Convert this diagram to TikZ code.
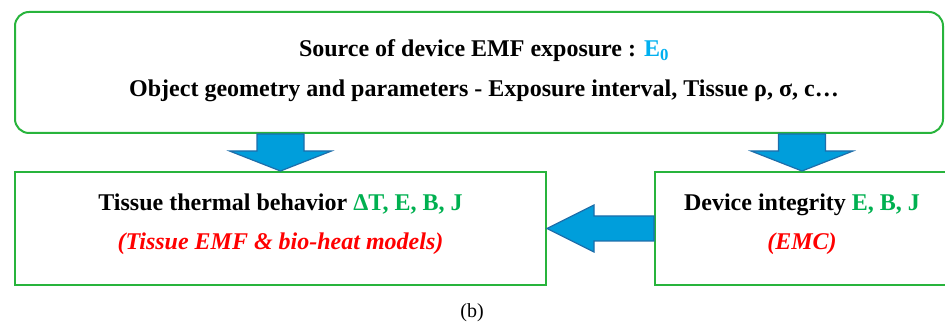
\documentclass[tikz,border=0pt]{standalone}
\usepackage{fontspec}
\setmainfont{Liberation Serif}
\usepackage{xcolor}
\usetikzlibrary{calc}
\definecolor{boxgreen}{RGB}{40,180,60}
\definecolor{textgreen}{RGB}{0,176,80}
\definecolor{sourceblue}{RGB}{0,176,240}
\definecolor{arrowblue}{RGB}{0,158,219}
\definecolor{arrowedge}{RGB}{30,110,170}

\begin{document}
\begin{tikzpicture}[x=1pt, y=1pt,
        box/.style={draw=boxgreen, line width=2pt, inner sep=0pt},
        boxtext/.style={align=center, font=\fontsize{24}{28.8}\selectfont\bfseries},
        fatarrow/.style={fill=arrowblue, draw=arrowedge, line width=1.2pt, line join=miter}]
        \clip (0,0) rectangle (945,329); % page of the figure
        % Boxes {{{
        \node[box, rounded corners=14pt, minimum width=928pt, minimum height=121pt] (src) at (479,256.5) {};
        \node[box, minimum width=531pt, minimum height=113pt] (tissue) at (280.5,100.5) {};
        \node[box, minimum width=294pt, minimum height=113pt] (device) at (802,100.5) {};
        % }}}
        % Texts {{{
        \node[boxtext] (srctext) at ([xshift=5pt, yshift=1.5pt]src.center)
                {Source of device EMF exposure : \textcolor{sourceblue}{E\textsubscript{0}}\\[11pt]
                 Object geometry and parameters - Exposure interval, Tissue ρ, σ, c…};
        \node[boxtext] (tissuetext) at ([yshift=4pt]tissue.center)
                {Tissue thermal behavior \textcolor{textgreen}{ΔT, E, B, J}\\[10pt]
                 \textcolor{red}{\itshape (Tissue EMF \& bio-heat models)}};
        \node[boxtext] (devicetext) at ([yshift=4pt]device.center)
                {Device integrity \textcolor{textgreen}{E, B, J}\\[10pt]
                 \textcolor{red}{\itshape (EMC)}};
        \node[font=\fontsize{20}{24}\selectfont] (caption) at (472,16) {(b)};
        % }}}
        % Arrows {{{
        \draw[fatarrow] let \p1=(tissue.north), \p2=(src.south) in
                (\p1) -- (\x1-51pt,\y1+20pt) -- (\x1-23.5pt,\y1+20pt) -- (\x1-23.5pt,\y2)
                -- (\x1+23.5pt,\y2) -- (\x1+23.5pt,\y1+20pt) -- (\x1+51pt,\y1+20pt) -- cycle;
        \draw[fatarrow] let \p1=(device.north), \p2=(src.south) in
                (\p1) -- (\x1-51pt,\y1+20pt) -- (\x1-23.5pt,\y1+20pt) -- (\x1-23.5pt,\y2)
                -- (\x1+23.5pt,\y2) -- (\x1+23.5pt,\y1+20pt) -- (\x1+51pt,\y1+20pt) -- cycle;
        \draw[fatarrow] let \p1=(tissue.east), \p2=(device.west) in
                (\p1) -- (\x1+47pt,\y1+23.5pt) -- (\x1+47pt,\y1+12.5pt) -- (\x2,\y1+12.5pt)
                -- (\x2,\y1-12.5pt) -- (\x1+47pt,\y1-12.5pt) -- (\x1+47pt,\y1-23.5pt) -- cycle;
        % }}}
\end{tikzpicture}
\end{document}
